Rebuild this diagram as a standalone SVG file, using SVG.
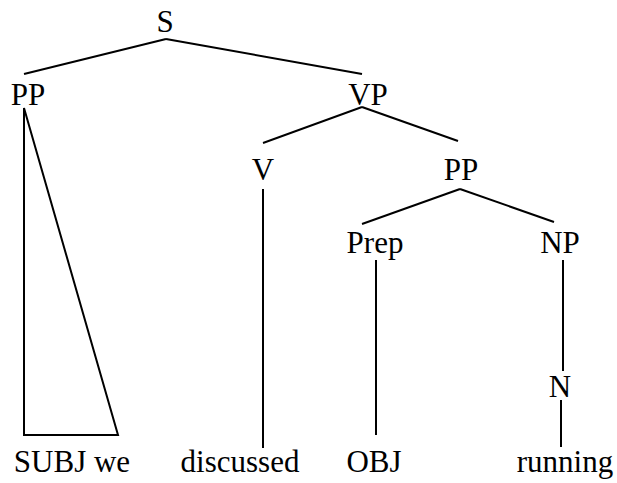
<svg xmlns="http://www.w3.org/2000/svg" width="617" height="483" viewBox="0 0 617 483">
  <style>
    .lbl { font-family: "Liberation Serif", "DejaVu Serif", "Noto Serif", Tinos, Times, serif; font-size: 31px; fill: #000; text-anchor: middle; }
    .edge { stroke: #000; stroke-width: 2; fill: none; stroke-linecap: butt; }
  </style>
  <rect x="0" y="0" width="617" height="483" fill="#fff"/>

  <!-- tree branches -->
  <g id="connectors">
    <line class="edge" x1="166" y1="39" x2="24" y2="74"/>
    <line class="edge" x1="166" y1="39" x2="362" y2="74"/>
    <polygon class="edge" points="24,108 24,435 118,435"/>
    <line class="edge" x1="362" y1="107" x2="263" y2="143"/>
    <line class="edge" x1="362" y1="107" x2="458" y2="141"/>
    <line class="edge" x1="263" y1="189" x2="263" y2="448"/>
    <line class="edge" x1="460" y1="189" x2="362" y2="224"/>
    <line class="edge" x1="460" y1="189" x2="554" y2="222"/>
    <line class="edge" x1="376" y1="260" x2="376" y2="435"/>
    <line class="edge" x1="563" y1="260" x2="563" y2="371"/>
    <line class="edge" x1="561" y1="400" x2="561" y2="447"/>
  </g>

  <!-- phrase labels -->
  <g id="node-s"><text class="lbl" x="165" y="32">S</text></g>
  <g id="node-pp-subj"><text class="lbl" x="28" y="105">PP</text></g>
  <g id="node-vp"><text class="lbl" x="368" y="105">VP</text></g>
  <g id="node-v"><text class="lbl" x="263" y="180">V</text></g>
  <g id="node-pp"><text class="lbl" x="461" y="180">PP</text></g>
  <g id="node-prep"><text class="lbl" x="375" y="253">Prep</text></g>
  <g id="node-np"><text class="lbl" x="560" y="253">NP</text></g>
  <g id="node-n"><text class="lbl" x="560" y="397">N</text></g>

  <!-- terminals -->
  <g id="leaf-subj-we"><text class="lbl" x="72" y="472">SUBJ we</text></g>
  <g id="leaf-discussed"><text class="lbl" x="240" y="472">discussed</text></g>
  <g id="leaf-obj"><text class="lbl" x="374" y="472">OBJ</text></g>
  <g id="leaf-running"><text class="lbl" x="565" y="472">running</text></g>
</svg>
